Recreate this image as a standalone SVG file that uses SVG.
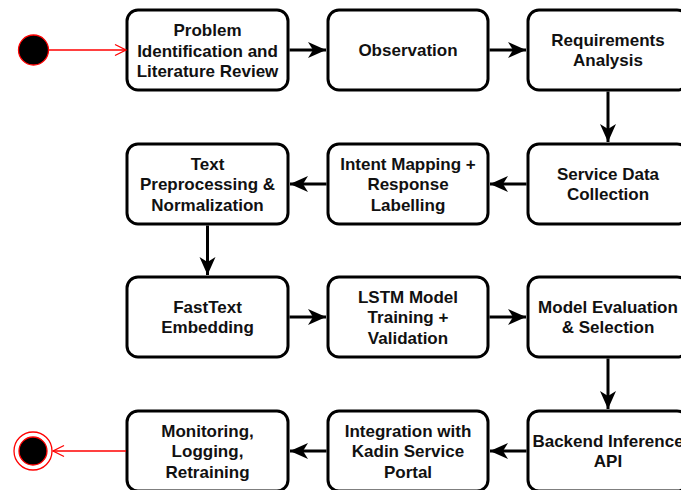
<svg xmlns="http://www.w3.org/2000/svg" width="681" height="490" viewBox="0 0 681 490">
<style>
.box{fill:#fff;stroke:#000;stroke-width:3}
.t{font-family:"Liberation Sans",Arial,sans-serif;font-weight:bold;font-size:17px;fill:#111;text-anchor:middle}
.c{fill:none;stroke:#000;stroke-width:3}
.r{fill:none;stroke:#f00;stroke-width:1.3}
</style>
<defs>
<marker id="ah" markerUnits="userSpaceOnUse" markerWidth="20" markerHeight="18" refX="18" refY="8" orient="auto" overflow="visible">
<path d="M0,0 L18,8 L0,16 L5,8 z" fill="#000"/>
</marker>
<marker id="ra" markerUnits="userSpaceOnUse" markerWidth="12" markerHeight="12" refX="11" refY="6" orient="auto" overflow="visible">
<path d="M0,0.5 L11,6 L0,11.5" fill="none" stroke="#f00" stroke-width="1.3"/>
</marker>
</defs>
<g id="start"><circle cx="33.5" cy="50" r="15" fill="#000" stroke="#f00" stroke-width="1.3"/></g>
<g id="end"><circle cx="33" cy="451" r="19" fill="#fff" stroke="#f00" stroke-width="1.3"/><circle cx="33" cy="451" r="14" fill="#000" stroke="#f00" stroke-width="1.3"/></g>
<g id="n1"><rect class="box" x="127" y="10" width="161" height="80" rx="11"/><text class="t" x="207.5" y="36">Problem</text><text class="t" x="207.5" y="56.5">Identification and</text><text class="t" x="207.5" y="77">Literature Review</text></g>
<g id="n2"><rect class="box" x="328" y="10" width="160" height="80" rx="11"/><text class="t" x="408" y="56">Observation</text></g>
<g id="n3"><rect class="box" x="528" y="10" width="160" height="80" rx="11"/><text class="t" x="608" y="45.8">Requirements</text><text class="t" x="608" y="66.3">Analysis</text></g>
<g id="n4"><rect class="box" x="528" y="144" width="160" height="80" rx="11"/><text class="t" x="608" y="179.8">Service Data</text><text class="t" x="608" y="200.3">Collection</text></g>
<g id="n5"><rect class="box" x="328" y="144" width="160" height="80" rx="11"/><text class="t" x="408" y="169.5">Intent Mapping +</text><text class="t" x="408" y="190">Response</text><text class="t" x="408" y="210.5">Labelling</text></g>
<g id="n6"><rect class="box" x="127" y="144" width="161" height="80" rx="11"/><text class="t" x="207.5" y="169.5">Text</text><text class="t" x="207.5" y="190">Preprocessing &amp;</text><text class="t" x="207.5" y="210.5">Normalization</text></g>
<g id="n7"><rect class="box" x="127" y="277" width="161" height="80" rx="11"/><text class="t" x="207.5" y="312.8">FastText</text><text class="t" x="207.5" y="333.3">Embedding</text></g>
<g id="n8"><rect class="box" x="328" y="277" width="160" height="80" rx="11"/><text class="t" x="408" y="302.5">LSTM Model</text><text class="t" x="408" y="323">Training +</text><text class="t" x="408" y="343.5">Validation</text></g>
<g id="n9"><rect class="box" x="528" y="277" width="160" height="80" rx="11"/><text class="t" x="608" y="312.8">Model Evaluation</text><text class="t" x="608" y="333.3">&amp; Selection</text></g>
<g id="n10"><rect class="box" x="528" y="411" width="160" height="80" rx="11"/><text class="t" x="608" y="446.8">Backend Inference</text><text class="t" x="608" y="467.3">API</text></g>
<g id="n11"><rect class="box" x="328" y="411" width="160" height="80" rx="11"/><text class="t" x="408" y="436.5">Integration with</text><text class="t" x="408" y="457">Kadin Service</text><text class="t" x="408" y="477.5">Portal</text></g>
<g id="n12"><rect class="box" x="127" y="411" width="161" height="80" rx="11"/><text class="t" x="207.5" y="436.5">Monitoring,</text><text class="t" x="207.5" y="457">Logging,</text><text class="t" x="207.5" y="477.5">Retraining</text></g>
<g id="connectors">
<line class="r" x1="49" y1="50" x2="126" y2="50" marker-end="url(#ra)"/>
<line class="c" x1="289.5" y1="50" x2="326" y2="50" marker-end="url(#ah)"/>
<line class="c" x1="489.5" y1="50" x2="526" y2="50" marker-end="url(#ah)"/>
<line class="c" x1="608" y1="91.5" x2="608" y2="142" marker-end="url(#ah)"/>
<line class="c" x1="526.5" y1="184" x2="490" y2="184" marker-end="url(#ah)"/>
<line class="c" x1="326.5" y1="184" x2="290" y2="184" marker-end="url(#ah)"/>
<line class="c" x1="207.5" y1="225.5" x2="207.5" y2="275" marker-end="url(#ah)"/>
<line class="c" x1="289.5" y1="317" x2="326" y2="317" marker-end="url(#ah)"/>
<line class="c" x1="489.5" y1="317" x2="526" y2="317" marker-end="url(#ah)"/>
<line class="c" x1="608" y1="358.5" x2="608" y2="409" marker-end="url(#ah)"/>
<line class="c" x1="526.5" y1="451" x2="490" y2="451" marker-end="url(#ah)"/>
<line class="c" x1="326.5" y1="451" x2="290" y2="451" marker-end="url(#ah)"/>
<line class="r" x1="126" y1="451" x2="53" y2="451" marker-end="url(#ra)"/>
</g>
</svg>
